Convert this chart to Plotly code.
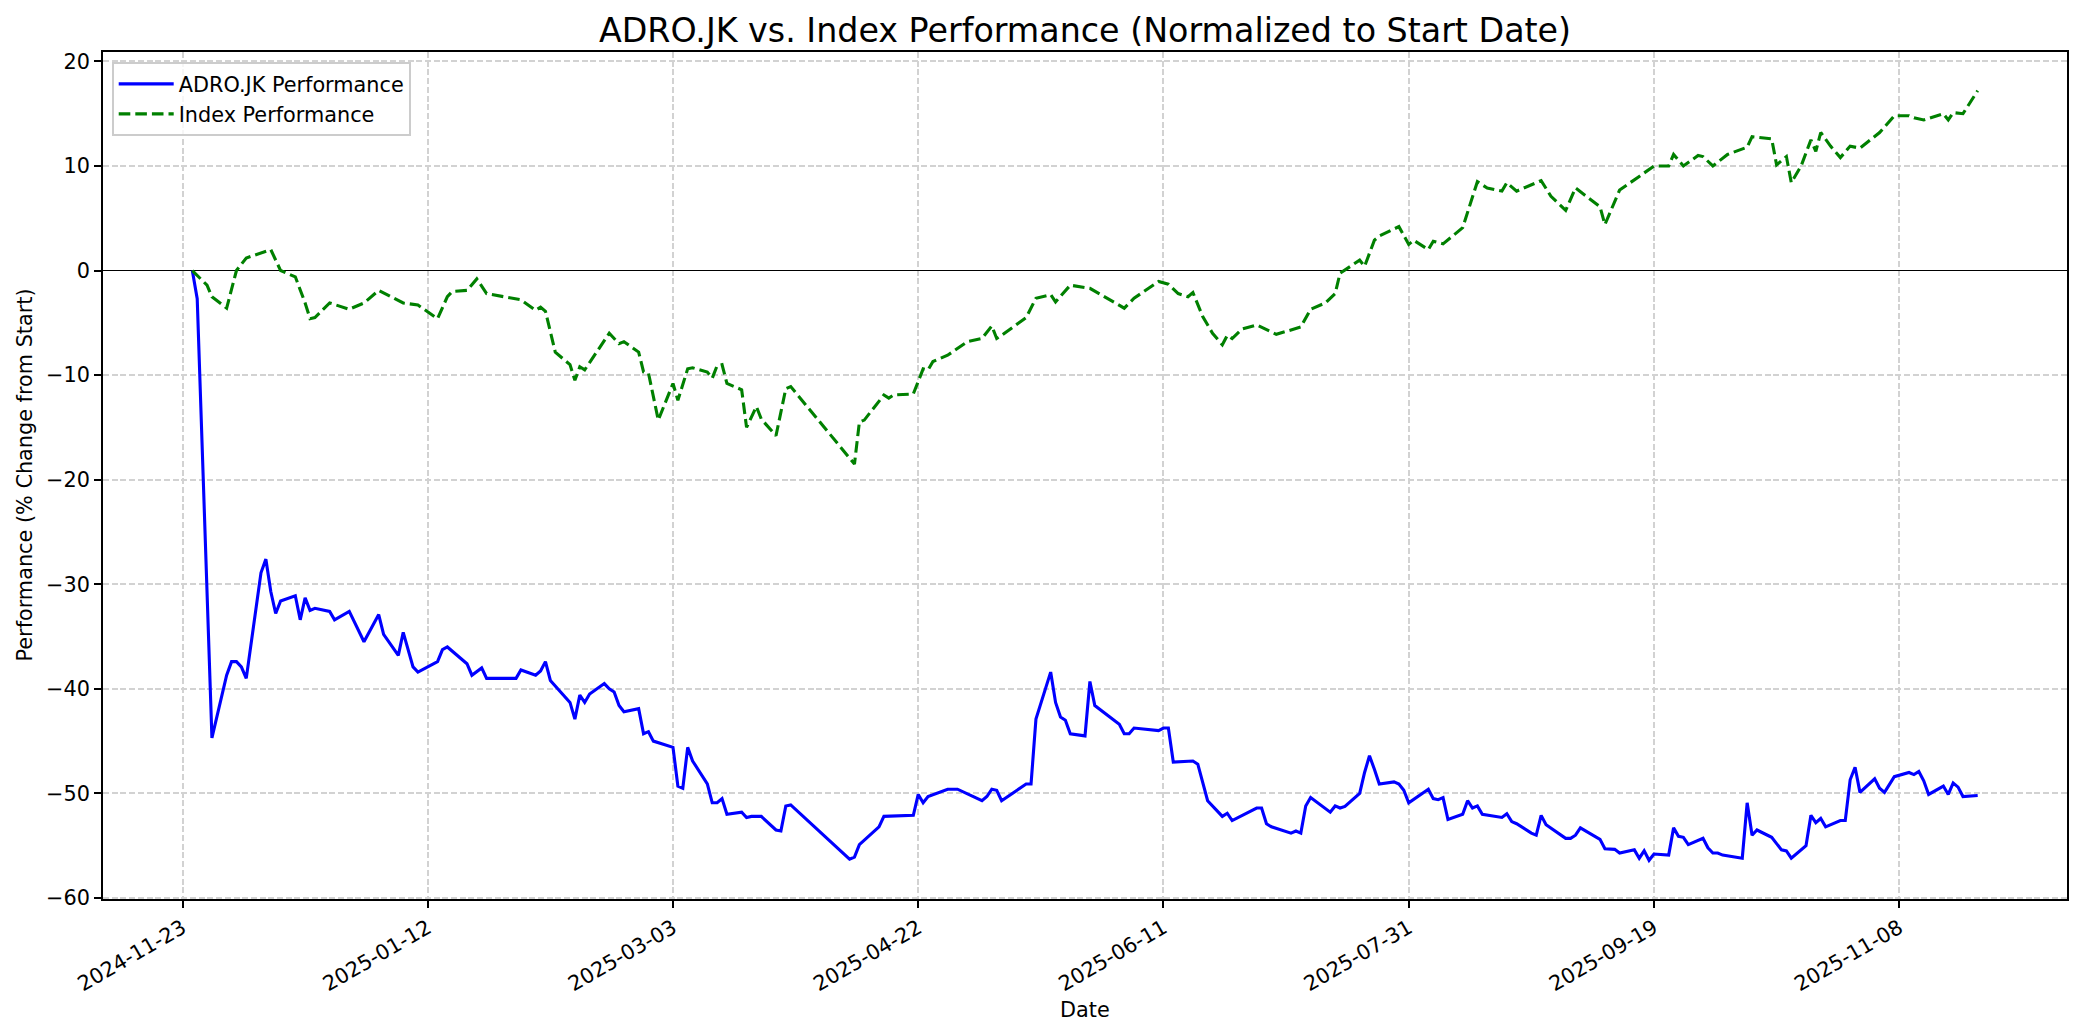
import plotly.graph_objects as go

# ---------------- data ----------------
adro_dates = [
    "2024-11-25", "2024-11-26", "2024-11-29", "2024-12-02", "2024-12-03", "2024-12-04", "2024-12-05",
    "2024-12-06", "2024-12-09", "2024-12-10", "2024-12-11", "2024-12-12", "2024-12-13", "2024-12-16",
    "2024-12-17", "2024-12-18", "2024-12-19", "2024-12-20", "2024-12-23", "2024-12-24", "2024-12-27",
    "2024-12-30", "2025-01-02", "2025-01-03", "2025-01-06", "2025-01-07", "2025-01-09", "2025-01-10",
    "2025-01-14", "2025-01-15", "2025-01-16", "2025-01-17", "2025-01-20", "2025-01-21", "2025-01-23",
    "2025-01-24", "2025-01-30", "2025-01-31", "2025-02-03", "2025-02-04", "2025-02-05", "2025-02-06",
    "2025-02-10", "2025-02-11", "2025-02-12", "2025-02-13", "2025-02-14", "2025-02-17", "2025-02-18",
    "2025-02-19", "2025-02-20", "2025-02-21", "2025-02-24", "2025-02-25", "2025-02-26", "2025-02-27",
    "2025-03-03", "2025-03-04", "2025-03-05", "2025-03-06", "2025-03-07", "2025-03-10", "2025-03-11",
    "2025-03-12", "2025-03-13", "2025-03-14", "2025-03-17", "2025-03-18", "2025-03-19", "2025-03-21",
    "2025-03-24", "2025-03-25", "2025-03-26", "2025-03-27", "2025-04-08", "2025-04-09", "2025-04-10",
    "2025-04-14", "2025-04-15", "2025-04-21", "2025-04-22", "2025-04-23", "2025-04-24", "2025-04-28",
    "2025-04-30", "2025-05-05", "2025-05-06", "2025-05-07", "2025-05-08", "2025-05-09", "2025-05-14",
    "2025-05-15", "2025-05-16", "2025-05-19", "2025-05-20", "2025-05-21", "2025-05-22", "2025-05-23",
    "2025-05-26", "2025-05-27", "2025-05-28", "2025-06-02", "2025-06-03", "2025-06-04", "2025-06-05",
    "2025-06-10", "2025-06-11", "2025-06-12", "2025-06-13", "2025-06-17", "2025-06-18", "2025-06-20",
    "2025-06-23", "2025-06-24", "2025-06-25", "2025-06-30", "2025-07-01", "2025-07-02", "2025-07-03",
    "2025-07-07", "2025-07-08", "2025-07-09", "2025-07-10", "2025-07-11", "2025-07-14", "2025-07-15",
    "2025-07-16", "2025-07-17", "2025-07-18", "2025-07-21", "2025-07-22", "2025-07-23", "2025-07-24",
    "2025-07-25", "2025-07-28", "2025-07-29", "2025-07-30", "2025-07-31", "2025-08-04", "2025-08-05",
    "2025-08-06", "2025-08-07", "2025-08-08", "2025-08-11", "2025-08-12", "2025-08-13", "2025-08-14",
    "2025-08-15", "2025-08-19", "2025-08-20", "2025-08-21", "2025-08-22", "2025-08-25", "2025-08-26",
    "2025-08-27", "2025-08-28", "2025-09-01", "2025-09-02", "2025-09-03", "2025-09-04", "2025-09-08",
    "2025-09-09", "2025-09-11", "2025-09-12", "2025-09-15", "2025-09-16", "2025-09-17", "2025-09-18",
    "2025-09-19", "2025-09-22", "2025-09-23", "2025-09-24", "2025-09-25", "2025-09-26", "2025-09-29",
    "2025-09-30", "2025-10-01", "2025-10-02", "2025-10-03", "2025-10-07", "2025-10-08", "2025-10-09",
    "2025-10-10", "2025-10-13", "2025-10-14", "2025-10-15", "2025-10-16", "2025-10-17", "2025-10-20",
    "2025-10-21", "2025-10-22", "2025-10-23", "2025-10-24", "2025-10-27", "2025-10-28", "2025-10-29",
    "2025-10-30", "2025-10-31", "2025-11-03", "2025-11-04", "2025-11-05", "2025-11-07", "2025-11-10",
    "2025-11-11", "2025-11-12", "2025-11-13", "2025-11-14", "2025-11-17", "2025-11-18", "2025-11-19",
    "2025-11-20", "2025-11-21", "2025-11-24",
]
adro_perf = [
    0.0, -2.7, -44.7, -38.7, -37.4, -37.4, -37.9,
    -39.0, -28.9, -27.6, -30.7, -32.8, -31.6, -31.1,
    -33.4, -31.3, -32.5, -32.3, -32.6, -33.4, -32.6,
    -35.5, -32.9, -34.8, -36.8, -34.6, -37.9, -38.4,
    -37.4, -36.25, -36.0, -36.4, -37.6, -38.7, -38.0,
    -39.0, -39.0, -38.2, -38.7, -38.3, -37.4, -39.2,
    -41.3, -42.9, -40.6, -41.3, -40.5, -39.5, -40.0,
    -40.3, -41.6, -42.2, -41.9, -44.3, -44.1, -45.0,
    -45.6, -49.3, -49.5, -45.6, -46.9, -49.1, -50.9,
    -50.9, -50.5, -52.0, -51.8, -52.3, -52.2, -52.2,
    -53.5, -53.6, -51.2, -51.1, -56.3, -56.1, -54.9,
    -53.2, -52.2, -52.1, -50.1, -50.9, -50.3, -49.6,
    -49.6, -50.7, -50.3, -49.6, -49.7, -50.7, -49.1,
    -49.1, -42.9, -38.4, -41.3, -42.7, -43.0, -44.3,
    -44.5, -39.3, -41.6, -43.4, -44.3, -44.3, -43.75,
    -44.0, -43.75, -43.75, -47.0, -46.9, -47.2, -50.7,
    -52.2, -51.9, -52.6, -51.4, -51.4, -52.9, -53.2,
    -53.8, -53.6, -53.8, -51.2, -50.4, -51.5, -51.8,
    -51.2, -51.4, -51.25, -50.0, -48.0, -46.4, -47.7,
    -49.1, -48.9, -49.1, -49.7, -50.9, -49.6, -50.5,
    -50.6, -50.4, -52.5, -52.0, -50.7, -51.4, -51.2,
    -52.0, -52.3, -51.95, -52.7, -52.9, -53.8, -54.0,
    -52.1, -53.0, -54.3, -54.3, -54.0, -53.3, -54.4,
    -55.3, -55.35, -55.7, -55.4, -56.2, -55.5, -56.4,
    -55.8, -55.9, -53.3, -54.1, -54.2, -54.9, -54.3,
    -55.2, -55.7, -55.7, -55.9, -56.2, -50.9, -54.0,
    -53.5, -54.2, -54.8, -55.4, -55.5, -56.2, -55.0,
    -52.1, -52.8, -52.4, -53.2, -52.6, -52.6, -48.7,
    -47.5, -49.9, -48.6, -49.5, -49.9, -48.4, -48.0,
    -48.2, -47.9, -48.8, -50.1, -49.3, -50.1, -49.0,
    -49.4, -50.3, -50.2,
]

index_dates = [
    "2024-11-25", "2024-11-28", "2024-11-29", "2024-12-02", "2024-12-04", "2024-12-06", "2024-12-11",
    "2024-12-13", "2024-12-16", "2024-12-18", "2024-12-19", "2024-12-20", "2024-12-23", "2024-12-27",
    "2024-12-30", "2025-01-02", "2025-01-07", "2025-01-10", "2025-01-14", "2025-01-16", "2025-01-17",
    "2025-01-20", "2025-01-22", "2025-01-24", "2025-01-31", "2025-02-03", "2025-02-04", "2025-02-05",
    "2025-02-07", "2025-02-10", "2025-02-11", "2025-02-12", "2025-02-13", "2025-02-18", "2025-02-20",
    "2025-02-21", "2025-02-24", "2025-02-25", "2025-02-26", "2025-02-28", "2025-03-03", "2025-03-04",
    "2025-03-06", "2025-03-07", "2025-03-10", "2025-03-11", "2025-03-12", "2025-03-13", "2025-03-14",
    "2025-03-17", "2025-03-18", "2025-03-20", "2025-03-21", "2025-03-24", "2025-03-26", "2025-03-27",
    "2025-04-09", "2025-04-10", "2025-04-11", "2025-04-15", "2025-04-16", "2025-04-17", "2025-04-21",
    "2025-04-23", "2025-04-24", "2025-04-25", "2025-04-28", "2025-05-02", "2025-05-05", "2025-05-07",
    "2025-05-08", "2025-05-09", "2025-05-14", "2025-05-16", "2025-05-19", "2025-05-20", "2025-05-23",
    "2025-05-27", "2025-06-03", "2025-06-05", "2025-06-10", "2025-06-12", "2025-06-14", "2025-06-16",
    "2025-06-17", "2025-06-19", "2025-06-21", "2025-06-23", "2025-06-24", "2025-06-25", "2025-06-27",
    "2025-06-30", "2025-07-04", "2025-07-09", "2025-07-11", "2025-07-14", "2025-07-16", "2025-07-17",
    "2025-07-21", "2025-07-22", "2025-07-24", "2025-07-25", "2025-07-29", "2025-07-31", "2025-08-01",
    "2025-08-04", "2025-08-05", "2025-08-07", "2025-08-11", "2025-08-14", "2025-08-16", "2025-08-19",
    "2025-08-20", "2025-08-22", "2025-08-26", "2025-08-27", "2025-08-29", "2025-09-01", "2025-09-03",
    "2025-09-07", "2025-09-08", "2025-09-09", "2025-09-12", "2025-09-16", "2025-09-19", "2025-09-22",
    "2025-09-23", "2025-09-25", "2025-09-28", "2025-09-29", "2025-10-01", "2025-10-04", "2025-10-07",
    "2025-10-08", "2025-10-09", "2025-10-13", "2025-10-14", "2025-10-16", "2025-10-17", "2025-10-19",
    "2025-10-21", "2025-10-22", "2025-10-23", "2025-10-25", "2025-10-27", "2025-10-29", "2025-10-31",
    "2025-11-04", "2025-11-07", "2025-11-10", "2025-11-11", "2025-11-13", "2025-11-17", "2025-11-18",
    "2025-11-19", "2025-11-21", "2025-11-24",
]
index_perf = [
    0.0, -1.4, -2.5, -3.6, 0.0, 1.2, 2.0,
    0.0, -0.6, -3.1, -4.6, -4.5, -3.1, -3.7,
    -3.1, -1.9, -3.1, -3.3, -4.6, -2.5, -2.0,
    -1.9, -0.8, -2.2, -2.8, -3.8, -3.5, -3.9,
    -7.8, -9.0, -10.5, -9.2, -9.5, -6.0, -7.0,
    -6.8, -7.8, -9.7, -9.8, -14.3, -10.8, -12.4,
    -9.4, -9.3, -9.7, -10.3, -9.1, -9.0, -10.8,
    -11.4, -15.0, -13.0, -14.2, -15.8, -11.3, -11.1,
    -18.5, -14.5, -14.3, -11.9, -12.2, -11.9, -11.8,
    -9.4, -9.5, -8.7, -8.1, -6.8, -6.5, -5.3,
    -6.5, -6.2, -4.5, -2.65, -2.3, -3.0, -1.4,
    -1.7, -3.6, -2.65, -1.05, -1.3, -2.2, -2.5,
    -2.1, -4.4, -6.0, -7.1, -6.2, -6.5, -5.6,
    -5.2, -6.1, -5.4, -3.7, -3.1, -2.2, -0.26,
    1.0, 0.4, 2.9, 3.3, 4.2, 2.5, 2.9,
    2.0, 2.8, 2.55, 4.1, 8.5, 7.9, 7.6,
    8.4, 7.6, 8.4, 8.6, 7.1, 5.75, 7.9,
    6.45, 6.1, 4.4, 7.7, 9.0, 10.0, 10.0,
    11.1, 10.0, 11.0, 10.9, 10.0, 11.1, 11.6,
    11.8, 12.8, 12.6, 10.1, 10.9, 8.4, 10.0,
    12.5, 11.4, 13.2, 11.9, 10.8, 11.9, 11.7,
    13.2, 14.8, 14.8, 14.6, 14.4, 15.0, 14.4,
    15.1, 15.0, 17.2,
]

x_tick_labels = ["2024-11-23", "2025-01-12", "2025-03-03", "2025-04-22",
                 "2025-06-11", "2025-07-31", "2025-09-19", "2025-11-08"]
y_tick_values = [-60, -50, -40, -30, -20, -10, 0, 10, 20]

# ---------------- styling ----------------
FONT = "DejaVu Sans"
W, H = 2084, 1035
L, R, T, B = 103, 17, 52, 136
LW = 3.1          # 1.5 pt at 150 dpi
SPINE = 1.67      # 0.8 pt at 150 dpi
FS = 20.8         # 10 pt at 150 dpi

fig = go.Figure()
fig.add_trace(go.Scatter(
    x=adro_dates, y=adro_perf, mode="lines", name="ADRO.JK Performance",
    line=dict(color="#0000ff", width=LW),
))
fig.add_trace(go.Scatter(
    x=index_dates, y=index_perf, mode="lines", name="Index Performance",
    line=dict(color="#008000", width=LW, dash="11.6px,5px"),
))

axis_common = dict(
    showline=True, linecolor="black", linewidth=SPINE, mirror=True,
    ticks="outside", ticklen=7, tickwidth=SPINE, tickcolor="black",
    tickfont=dict(family=FONT, size=FS, color="black"),
    showgrid=True, gridcolor="#d2d2d2", gridwidth=1.6, griddash="6px,2.7px",
)

fig.update_xaxes(
    type="date",
    range=["2024-11-06 19:00", "2025-12-12 05:00"],
    tickvals=x_tick_labels, ticktext=x_tick_labels,
    tickangle=-30,
    zeroline=False,
    **axis_common,
)
fig.update_yaxes(
    range=[-60.1, 20.9],
    tickvals=y_tick_values,
    zeroline=True, zerolinecolor="black", zerolinewidth=1.1,
    **axis_common,
)

fig.update_layout(
    width=W, height=H,
    margin=dict(l=L, r=R, t=T, b=B, autoexpand=False),
    paper_bgcolor="white", plot_bgcolor="white",
    font=dict(family=FONT, size=FS, color="black"),
    title=dict(
        text="ADRO.JK vs. Index Performance (Normalized to Start Date)",
        font=dict(family=FONT, size=33.3, color="black"),
        x=(L + (W - L - R) / 2) / W, xanchor="center",
        y=1 - 30 / H, yanchor="middle",
    ),
    legend=dict(
        x=0.0046, y=0.988, xanchor="left", yanchor="top",
        bgcolor="rgba(255,255,255,0.8)", bordercolor="#cccccc", borderwidth=SPINE,
        font=dict(family=FONT, size=FS, color="black"),
        traceorder="normal", itemwidth=55,
    ),
    showlegend=True,
    annotations=[
        dict(text="Date", xref="paper", yref="paper",
             x=0.5, y=-(1010 - (H - B)) / (H - T - B),
             xanchor="center", yanchor="middle", showarrow=False,
             font=dict(family=FONT, size=FS, color="black")),
        dict(text="Performance (% Change from Start)", xref="paper", yref="paper",
             x=(24 - L) / (W - L - R), y=0.5, textangle=-90,
             xanchor="center", yanchor="middle", showarrow=False,
             font=dict(family=FONT, size=FS, color="black")),
    ],
)

fig.write_html(
    "out.html",
    config={"displayModeBar": False},
    post_script="document.body.style.margin='0';document.body.style.overflow='hidden';",
)
